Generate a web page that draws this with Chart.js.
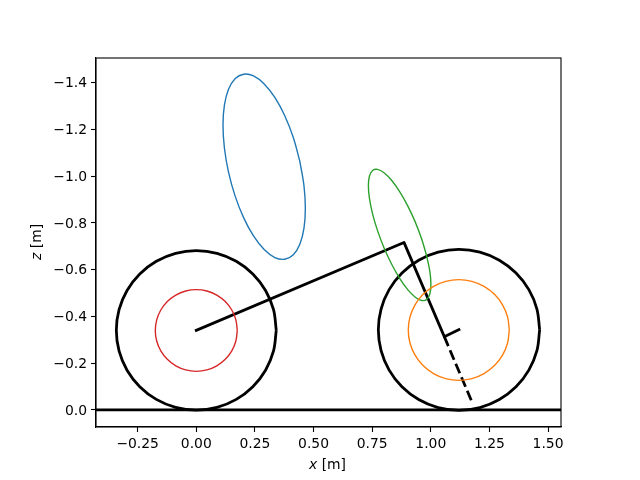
<!DOCTYPE html>
<html>
<head>
<meta charset="utf-8">
<script src="https://cdn.jsdelivr.net/npm/chart.js@4"></script>
<style>
html, body { margin: 0; padding: 0; background: #fff; }
canvas { display: block; }
</style>
</head>
<body>
<canvas id="myChart" width="640" height="480"></canvas>
<script>
// tick labels
var xTicks = [-0.25, 0, 0.25, 0.5, 0.75, 1, 1.25, 1.5];
var zTicks = [-1.4, -1.2, -1, -0.8, -0.6, -0.4, -0.2, 0];

// ground
var groundX = [-0.4277, 1.5553];
var groundZ = [0, 0];

// frame and fork
var frameX = [0, 0.8857, 1.0576, 1.12];
var frameZ = [-0.34, -0.716, -0.313, -0.343];
var forkX = [1.0576, 1.1795];
var forkZ = [-0.313, -0.0243];

// wheels
var rearWheelX = [0.341, 0.3294, 0.2953, 0.2411, 0.1705, 0.0883, 0, -0.0883, -0.1705, -0.2411, -0.2953, -0.3294, -0.341, -0.3294, -0.2953, -0.2411, -0.1705, -0.0883, 0, 0.0883, 0.1705, 0.2411, 0.2953, 0.3294, 0.341];
var rearWheelZ = [-0.34, -0.2517, -0.1695, -0.0989, -0.0447, -0.0106, 0.001, -0.0106, -0.0447, -0.0989, -0.1695, -0.2517, -0.34, -0.4283, -0.5105, -0.5811, -0.6353, -0.6694, -0.681, -0.6694, -0.6353, -0.5811, -0.5105, -0.4283, -0.34];
var frontWheelX = [1.4643, 1.4526, 1.4182, 1.3635, 1.2923, 1.2093, 1.1203, 1.0313, 0.9483, 0.8771, 0.8224, 0.788, 0.7763, 0.788, 0.8224, 0.8771, 0.9483, 1.0313, 1.1203, 1.2093, 1.2923, 1.3635, 1.4182, 1.4526, 1.4643];
var frontWheelZ = [-0.342, -0.253, -0.17, -0.0988, -0.0441, -0.0097, 0.002, -0.0097, -0.0441, -0.0988, -0.17, -0.253, -0.342, -0.431, -0.514, -0.5852, -0.6399, -0.6743, -0.686, -0.6743, -0.6399, -0.5852, -0.514, -0.431, -0.342];

// blue ellipse
var blueX = [0.4416, 0.4591, 0.4651, 0.4591, 0.4416, 0.4137, 0.3773, 0.3350, 0.2895, 0.2440, 0.2017, 0.1653, 0.1374, 0.1199, 0.1139, 0.1199, 0.1374, 0.1653, 0.2017, 0.2440, 0.2895, 0.3350, 0.3773, 0.4137, 0.4416];
var blueZ = [-1.0627, -0.9595, -0.8618, -0.7761, -0.7085, -0.6634, -0.6440, -0.6514, -0.6855, -0.7436, -0.8220, -0.9150, -1.0167, -1.1199, -1.2176, -1.3033, -1.3709, -1.4160, -1.4354, -1.4280, -1.3939, -1.3358, -1.2574, -1.1644, -1.0627];

// orange circle
var orangeX = [1.3348, 1.3275, 1.3059, 1.2717, 1.2271, 1.1751, 1.1194, 1.0637, 1.0117, 0.9671, 0.9329, 0.9113, 0.904, 0.9113, 0.9329, 0.9671, 1.0117, 1.0637, 1.1194, 1.1751, 1.2271, 1.2717, 1.3059, 1.3275, 1.3348];
var orangeZ = [-0.3416, -0.2859, -0.2339, -0.1893, -0.1551, -0.1335, -0.1262, -0.1335, -0.1551, -0.1893, -0.2339, -0.2859, -0.3416, -0.3973, -0.4493, -0.4939, -0.5281, -0.5497, -0.557, -0.5497, -0.5281, -0.4939, -0.4493, -0.3973, -0.3416];

// green ellipse
var greenX = [0.9826, 0.9960, 1.0005, 0.9960, 0.9826, 0.9615, 0.9339, 0.9017, 0.8672, 0.8327, 0.8005, 0.7729, 0.7518, 0.7384, 0.7339, 0.7384, 0.7518, 0.7729, 0.8005, 0.8327, 0.8672, 0.9017, 0.9339, 0.9615, 0.9826];
var greenZ = [-0.6576, -0.5918, -0.5366, -0.4958, -0.4722, -0.4675, -0.4818, -0.5142, -0.5627, -0.6238, -0.6932, -0.7665, -0.8384, -0.9042, -0.9594, -1.0002, -1.0238, -1.0285, -1.0142, -0.9818, -0.9333, -0.8722, -0.8028, -0.7295, -0.6576];

// red circle
var redX = [0.1748, 0.1688, 0.1514, 0.1236, 0.0874, 0.0452, 0, -0.0452, -0.0874, -0.1236, -0.1514, -0.1688, -0.1748, -0.1688, -0.1514, -0.1236, -0.0874, -0.0452, 0, 0.0452, 0.0874, 0.1236, 0.1514, 0.1688, 0.1748];
var redZ = [-0.3395, -0.2943, -0.2521, -0.2159, -0.1881, -0.1707, -0.1647, -0.1707, -0.1881, -0.2159, -0.2521, -0.2943, -0.3395, -0.3847, -0.4269, -0.4631, -0.4909, -0.5083, -0.5143, -0.5083, -0.4909, -0.4631, -0.4269, -0.3847, -0.3395];

function points(xs, zs) {
    return xs.map(function (x, i) { return { x: x, y: zs[i] }; });
}

function thin(xs, zs, color) {
    return { data: points(xs, zs), borderColor: color, borderWidth: 1.39, tension: 0.35, pointRadius: 0, fill: false };
}

function thick(xs, zs, tension, cap) {
    return { data: points(xs, zs), borderColor: '#000', borderWidth: 2.78, tension: tension, pointRadius: 0, fill: false,
             borderCapStyle: cap, borderJoinStyle: 'round' };
}

var forkLine = thick(forkX, forkZ, 0, 'butt');
forkLine.borderDash = [10.3, 4.4];

var font = { family: 'DejaVu Sans', size: 13.9 };

// box round the axes and the axis labels with their italic letter
var framePlugin = {
    id: 'framePlugin',
    beforeDraw: function (chart) {
        // the y labels sit a little high with a middle baseline
        chart.scales.y.getLabelItems().forEach(function (item) {
            if (!item.moved) { item.options.translation[1] += 1.2; item.moved = true; }
        });
    },
    afterDraw: function (chart) {
        var c = chart.ctx, a = chart.chartArea;
        c.save();
        c.strokeStyle = '#000';
        c.lineWidth = 1.1;
        c.strokeRect(a.left, a.top, a.right - a.left, a.bottom - a.top);
        c.fillStyle = '#000';
        c.textBaseline = 'alphabetic';
        c.textAlign = 'left';

        function label(letter, rest, px, py, angle) {
            c.save();
            c.translate(px, py);
            c.rotate(angle);
            c.font = 'italic 13.9px "DejaVu Sans"';
            c.fillText(letter, 0, 0);
            var w = c.measureText(letter).width;
            c.font = '13.9px "DejaVu Sans"';
            c.fillText(rest, w, 0);
            c.restore();
        }
        label('x', ' [m]', 309, 469, 0);
        label('z', ' [m]', 41, 260, -Math.PI / 2);
        c.restore();
    }
};

var ctx = document.getElementById('myChart');
var chart = new Chart(ctx, {
    type: 'line',
    data: {
        datasets: [
            thin(blueX, blueZ, '#1f77b4'),
            thin(orangeX, orangeZ, '#ff7f0e'),
            thin(greenX, greenZ, '#2ca02c'),
            thin(redX, redZ, '#d62728'),
            thick(rearWheelX, rearWheelZ, 0.35, 'butt'),
            thick(frontWheelX, frontWheelZ, 0.35, 'butt'),
            thick(frameX, frameZ, 0, 'square'),
            forkLine,
            thick(groundX, groundZ, 0, 'butt')
        ]
    },
    plugins: [framePlugin],
    options: {
        responsive: false,
        animation: false,
        devicePixelRatio: 1,
        layout: { padding: { left: 0, top: 58, right: 79, bottom: 0 } },
        plugins: { legend: { display: false }, tooltip: { enabled: false } },
        scales: {
            x: {
                type: 'linear',
                min: groundX[0],
                max: groundX[1],
                afterBuildTicks: function (s) { s.ticks = xTicks.map(function (v) { return { value: v }; }); },
                afterFit: function (s) { s.height = 53; },
                grid: { drawOnChartArea: false, tickLength: 5, tickColor: '#000', tickWidth: 1.1 },
                border: { color: '#000', width: 1.1 },
                ticks: {
                    color: '#000', font: font, padding: 4, maxRotation: 0, autoSkip: false,
                    callback: function (v) { return v.toFixed(2).replace('-', '\u2212'); }
                }
            },
            y: {
                type: 'linear',
                reverse: true,
                min: -1.5047,
                max: 0.0734,
                afterBuildTicks: function (s) { s.ticks = zTicks.map(function (v) { return { value: v }; }); },
                afterFit: function (s) { s.width = 96; },
                grid: { drawOnChartArea: false, tickLength: 5, tickColor: '#000', tickWidth: 1.1 },
                border: { color: '#000', width: 1.1 },
                ticks: {
                    color: '#000', font: font, padding: 4, autoSkip: false,
                    callback: function (v) { return v.toFixed(1).replace('-', '\u2212'); }
                }
            }
        }
    }
});
</script>
</body>
</html>
